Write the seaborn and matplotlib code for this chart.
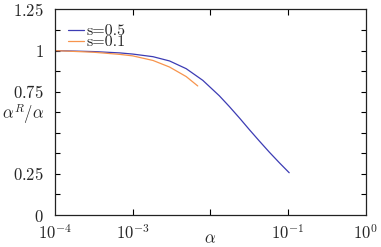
import numpy as np
import pandas as pd
import matplotlib
matplotlib.use('Agg')
import matplotlib.pyplot as plt
import seaborn as sns

# values (alpha on log axis)
alpha_s05 = [1e-4, 3.16e-4, 6.82e-4, 1e-3, 1.83e-3, 2.99e-3, 4.9e-3, 8.02e-3, 1.31e-2,
             1.76e-2, 2.4e-2, 3.18e-2, 4.27e-2, 5.75e-2, 7.76e-2, 0.104]
ratio_s05 = [1.0, 0.994, 0.986, 0.979, 0.963, 0.937, 0.89, 0.819, 0.725,
             0.66, 0.588, 0.52, 0.451, 0.383, 0.318, 0.257]

alpha_s01 = [1e-4, 3.16e-4, 6.82e-4, 1e-3, 1.83e-3, 2.99e-3, 4.9e-3, 6.9e-3]
ratio_s01 = [1.0, 0.99, 0.977, 0.968, 0.94, 0.9, 0.842, 0.785]

labels = ['s=0.5', 's=0.1']
colors = ['#3c3cb4', '#f7944d']

yticks = [0, 0.125, 0.25, 0.375, 0.5, 0.625, 0.75, 0.875, 1.0, 1.125, 1.25]
ytick_labels = ['$0$', '', '$0.25$', '', '', '', '$0.75$', '', '$1$', '', '$1.25$']
xticks = [1e-4, 1e-3, 1e-2, 1e-1, 1e0]
xtick_labels = ['$10^{-4}$', '$10^{-3}$', '', '$10^{-1}$', '$10^{0}$']

df = pd.concat([
    pd.DataFrame({'alpha': alpha_s05, 'ratio': ratio_s05, 's': labels[0]}),
    pd.DataFrame({'alpha': alpha_s01, 'ratio': ratio_s01, 's': labels[1]}),
])

sns.set_style('ticks')
plt.rcParams['mathtext.fontset'] = 'cm'
plt.rcParams['font.family'] = ['DejaVu Serif']

fig = plt.figure(figsize=(3.81, 2.47), dpi=100)
ax = fig.add_axes([55 / 381, 32 / 247, 310.5 / 381, 205.5 / 247])

sns.lineplot(data=df, x='alpha', y='ratio', hue='s', palette=colors,
             linewidth=0.9, ax=ax, legend=False, sort=False)

ax.set_xscale('log')
ax.set_xlim(1e-4, 1e0)
ax.set_ylim(0, 1.25)
ax.set_xticks(xticks)
ax.set_xticklabels(xtick_labels)
ax.minorticks_off()
ax.set_yticks(yticks)
ax.set_yticklabels(ytick_labels)
ax.tick_params(axis='both', direction='in', labelsize=12, width=0.8, color='black',
               top=True, right=True)
ax.tick_params(axis='x', length=4, pad=7)
ax.tick_params(axis='y', length=3.5, pad=8)
# the end ticks sit on the frame in the reference; hide the ones at the corners
for t in ax.xaxis.get_major_ticks()[0::4]:
    t.tick1line.set_visible(False)
    t.tick2line.set_visible(False)
for t in (ax.yaxis.get_major_ticks()[0], ax.yaxis.get_major_ticks()[-1]):
    t.tick1line.set_visible(False)
    t.tick2line.set_visible(False)

for sp in ax.spines.values():
    sp.set_visible(True)
    sp.set_linewidth(0.9)
    sp.set_color('#222222')

ax.set_xlabel('')
ax.set_ylabel('')
ax.text(1e-2, -0.118, r'$\alpha$', ha='center', va='center', fontsize=12,
        transform=ax.get_xaxis_transform())
ax.text(-0.035, 0.612, r'$\alpha^R/\alpha$', ha='right', va='center', fontsize=12,
        transform=ax.get_yaxis_transform())

handles = [plt.Line2D([], [], color=c, linewidth=0.9) for c in colors]
ax.legend(handles, labels,
          loc='upper left', bbox_to_anchor=(0.041, 0.928), frameon=False,
          prop={'family': 'cmr10', 'size': 11.5}, handlelength=1.0, handletextpad=0.2,
          labelspacing=-0.2, borderpad=0, borderaxespad=0)

fig.savefig('out.png', dpi=100)
